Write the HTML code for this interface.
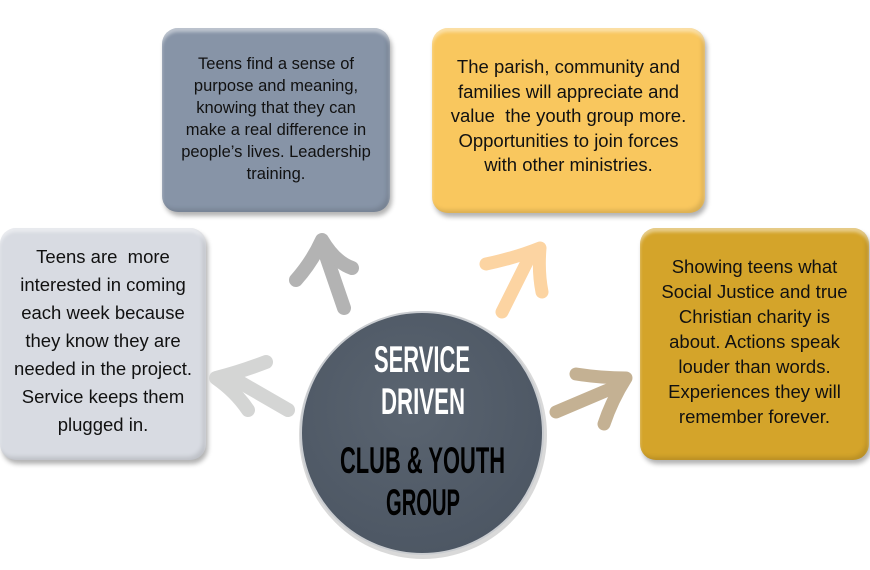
<!DOCTYPE html>
<html><head><meta charset="utf-8"><style>
html,body{margin:0;padding:0;background:#fff}
body{width:870px;height:570px;position:relative;overflow:hidden;font-family:"Liberation Sans",sans-serif}
.box{position:absolute;border-radius:16px;display:flex;align-items:center;justify-content:center;text-align:center;color:#111;box-shadow:2px 4px 5px rgba(0,0,0,.3), inset 0 4px 3px rgba(255,255,255,.45), inset -3px -3px 4px rgba(0,0,0,.12);box-sizing:border-box;white-space:nowrap}
</style></head><body>
<div class="box" style="left:162px;top:28px;width:228px;height:184px;background:#8794a7;font-size:16.5px;line-height:22px;padding:0 0 2px">Teens find a sense of<br>purpose and meaning,<br>knowing that they can<br>make a real difference in<br>people’s lives. Leadership<br>training.</div>
<div class="box" style="left:432px;top:28px;width:273px;height:185px;background:#f9c75e;font-size:18.5px;line-height:24.5px;padding:0 0 8px">The parish, community and<br>families will appreciate and<br>value&nbsp; the youth group more.<br>Opportunities to join forces<br>with other ministries.</div>
<div class="box" style="left:0px;top:228px;width:206px;height:232px;background:#d8dbe2;font-size:18.5px;line-height:28px;padding:0 0 6px">Teens are&nbsp; more<br>interested in coming<br>each week because<br>they know they are<br>needed in the project.<br>Service keeps them<br>plugged in.</div>
<div class="box" style="left:640px;top:228px;width:229px;height:232px;background:#d4a42a;font-size:18.5px;line-height:25px;padding:0 0 6px">Showing teens what<br>Social Justice and true<br>Christian charity is<br>about. Actions speak<br>louder than words.<br>Experiences they will<br>remember forever.</div>
<svg width="870" height="570" style="position:absolute;left:0;top:0" fill="none" stroke-linecap="round" stroke-linejoin="round">
<g stroke="#b3b3b3" stroke-width="14"><path d="M344 308 L322 244"/><path d="M296 280 Q312 262 322 240 Q335 262 352 268"/></g>
<g stroke="#fcd4a2" stroke-width="13"><path d="M502 312 L532 252"/><path d="M486 264 Q515 258 540 248 Q538 272 542 292"/></g>
<g stroke="#d4d5d4" stroke-width="14"><path d="M288 410 L236 380"/><path d="M266 362 Q240 372 216 378 Q236 392 248 410"/></g>
<g stroke="#c4b193" stroke-width="13"><path d="M556 412 L622 384"/><path d="M576 374 Q602 378 626 378 Q612 400 604 424"/></g>
<defs><radialGradient id="g" cx="45%" cy="40%" r="65%"><stop offset="0" stop-color="#5a6470"/><stop offset="1" stop-color="#4c5663"/></radialGradient></defs>
<circle cx="423" cy="435" r="124" fill="#000" opacity=".15"/>
<circle cx="422" cy="433" r="121" fill="url(#g)" stroke="#c9ccd0" stroke-width="2"/>
<g font-family="Liberation Sans, sans-serif" font-weight="bold" font-size="37">
<text x="374" y="372" fill="#fff" textLength="96" lengthAdjust="spacingAndGlyphs">SERVICE</text>
<text x="381" y="414" fill="#fff" textLength="84" lengthAdjust="spacingAndGlyphs">DRIVEN</text>
<text x="340" y="473" fill="#000" textLength="165" lengthAdjust="spacingAndGlyphs">CLUB &amp; YOUTH</text>
<text x="386" y="515" fill="#000" textLength="74" lengthAdjust="spacingAndGlyphs">GROUP</text>
</g>
</svg>
</body></html>
